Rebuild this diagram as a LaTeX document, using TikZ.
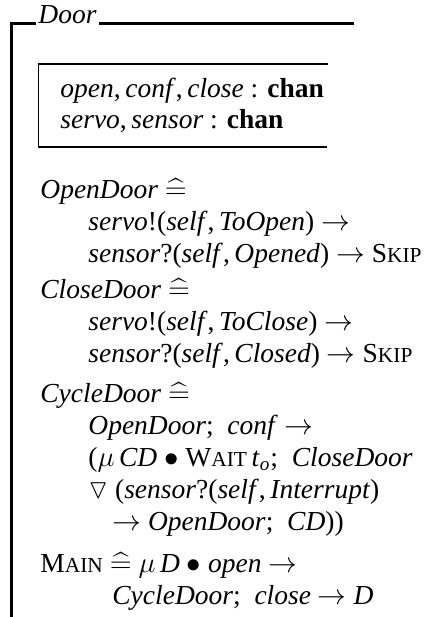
\documentclass[tikz,border=0pt]{standalone}
\usepackage{amsmath}
\usepackage{amssymb}
\usepackage{fontspec}
\setmainfont{Liberation Serif}

\newcommand{\fakesc}[2]{#1{\fontsize{10.7}{12}\selectfont #2}}
\newcommand{\Skip}{\fakesc{S}{KIP}}
\newcommand{\Wait}{\fakesc{W}{AIT}}
\newcommand{\Main}{\fakesc{M}{AIN}}
\newcommand{\defs}{\mathrel{\smash{\widehat{=}}}}

\begin{document}
\begin{tikzpicture}[x=0.5pt,y=-0.5pt,
	zline/.style={anchor=base west,inner sep=0pt,font=\fontsize{13.75}{16}\selectfont},
	zrule/.style={line width=1.5pt},
	zbox/.style={line width=0.7pt}]
	\useasboundingbox (0,0) rectangle (425,617);

	\node[zline,inner xsep=1pt] (door) at (36,23) {\textit{Door}};
	\coordinate (foot) at (11.5,617);
	\coordinate (ruleend) at (354,23);
	\draw[zrule] (foot) |- (door.base west);
	\draw[zrule] (door.base east) -- (ruleend);

	\coordinate (boxtr) at (328,64);
	\coordinate (boxbl) at (38.5,147);
	\coordinate (boxbr) at (327,147);
	\draw[zbox] (boxtr) -| (boxbl) -- (boxbr);
	\node[zline] (decl1) at (60,97) {\textit{open},\,\textit{conf\/},\,\textit{close} : \textbf{chan}};
	\node[zline] (decl2) at (60,128) {\textit{servo},\,\textit{sensor} : \textbf{chan}};

	\node[zline] (open0) at (40,198) {\textit{OpenDoor} $\defs$};
	\node[zline] (open1) at (88,230) {\textit{servo}!(\textit{self\/},\,\textit{ToOpen}) $\rightarrow$};
	\node[zline] (open2) at (88,262) {\textit{sensor}?(\textit{self\/},\,\textit{Opened}) $\rightarrow$ \Skip};

	\node[zline] (close0) at (40,298) {\textit{CloseDoor} $\defs$};
	\node[zline] (close1) at (88,330) {\textit{servo}!(\textit{self\/},\,\textit{ToClose}) $\rightarrow$};
	\node[zline] (close2) at (88,362) {\textit{sensor}?(\textit{self\/},\,\textit{Closed}) $\rightarrow$ \Skip};

	\node[zline] (cycle0) at (40,402) {\textit{CycleDoor} $\defs$};
	\node[zline] (cycle1) at (88,434) {\textit{OpenDoor};\enskip\textit{conf\/} $\rightarrow$};
	\node[zline] (cycle2) at (88,466) {($\mu$\,\textit{CD} $\bullet$ \Wait\,\textit{t}$_{\textit{o}}$;\enskip\textit{CloseDoor}};
	\node[zline] (cycle3) at (88,498) {$\triangledown$ (\textit{sensor}?(\textit{self\/},\,\textit{Interrupt})};
	\node[zline] (cycle4) at (112,530) {$\rightarrow$ \textit{OpenDoor};\enskip\textit{CD}))};

	\node[zline] (main0) at (40,572) {\Main\ $\defs$ $\mu$\,\textit{D} $\bullet$ \textit{open} $\rightarrow$};
	\node[zline] (main1) at (112,604) {\textit{CycleDoor};\enskip\textit{close} $\rightarrow$ \textit{D}};
\end{tikzpicture}
\end{document}
